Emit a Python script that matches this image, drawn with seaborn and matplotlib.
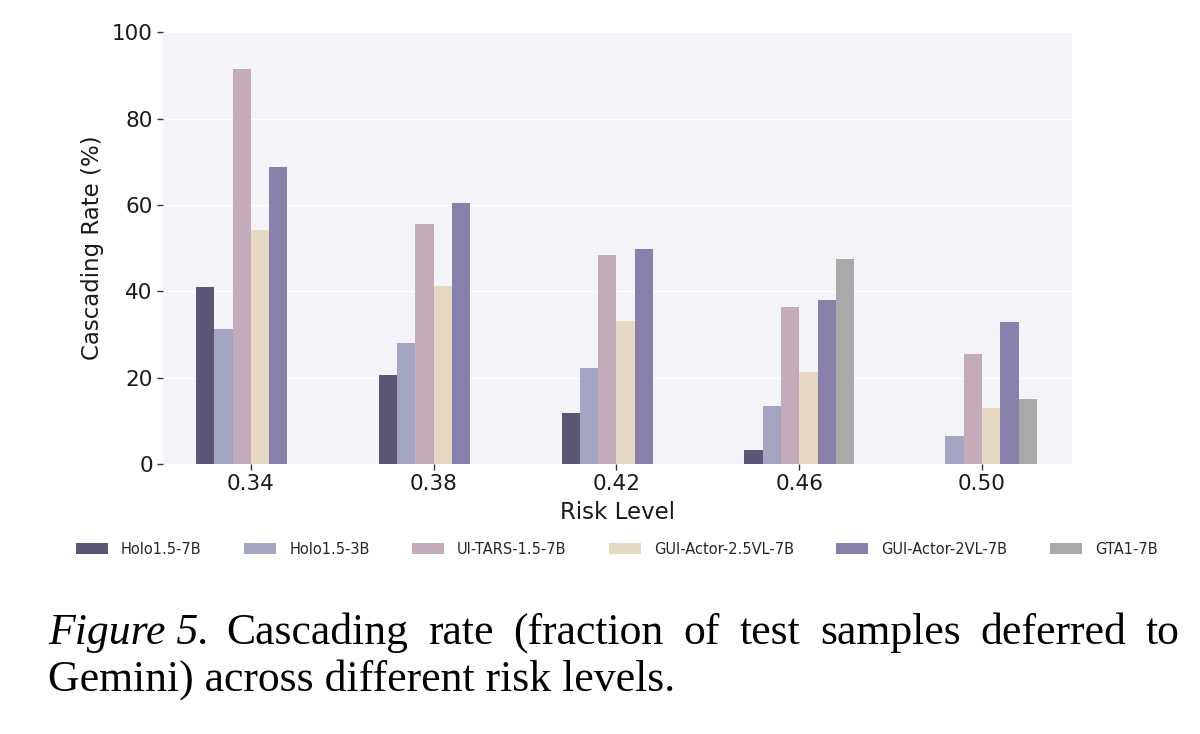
import numpy as np
import pandas as pd
import seaborn as sns
import matplotlib.pyplot as plt

# ─── Data ────────────────────────────────────────────────────────────
risk_levels = ["0.34", "0.38", "0.42", "0.46", "0.50"]
models = ["Holo1.5-7B", "Holo1.5-3B", "UI-TARS-1.5-7B",
          "GUI-Actor-2.5VL-7B", "GUI-Actor-2VL-7B", "GTA1-7B"]

holo_7b      = [41.0, 20.7, 11.9, 3.2, 0.0]
holo_3b      = [31.2, 27.9, 22.3, 13.4, 6.5]
ui_tars      = [91.4, 55.6, 48.3, 36.4, 25.4]
gui_actor_25 = [54.3, 41.3, 33.1, 21.4, 13.0]
gui_actor_2  = [68.8, 60.4, 49.8, 38.0, 32.9]
gta1_7b      = [0.0, 0.0, 0.0, 47.5, 15.0]

colors = ["#5b5676", "#a3a5c2", "#c4abba", "#e6d9c3", "#8880ab", "#a9a9a9"]

caption_tag = "Figure 5."
caption_line1 = "Cascading rate (fraction of test samples deferred to"
caption_line2 = "Gemini) across different risk levels."

series = [holo_7b, holo_3b, ui_tars, gui_actor_25, gui_actor_2, gta1_7b]
rows = []
for name, vals in zip(models, series):
    for lvl, v in zip(risk_levels, vals):
        rows.append({"Risk Level": lvl, "Model": name, "Rate": v})
df = pd.DataFrame(rows)

# ─── Style ───────────────────────────────────────────────────────────
sns.set_style("darkgrid", {
    "axes.facecolor": "#f3f3f8",
    "grid.color": "white",
    "xtick.bottom": True,
    "ytick.left": True,
})
plt.rcParams["font.family"] = ["DejaVu Sans"]

fig = plt.figure(figsize=(12, 7.34), dpi=100)
ax = fig.add_axes([0.136, 0.368, 0.757, 0.588])

sns.barplot(data=df, x="Risk Level", y="Rate", hue="Model",
            hue_order=models, order=risk_levels, palette=colors,
            width=0.6, saturation=1, linewidth=0, ax=ax)

ax.set_ylim(0, 100)
ax.set_xlim(-0.48, 4.49)
ax.set_yticks([0, 20, 40, 60, 80, 100])
ax.grid(axis="x", visible=False)
ax.grid(axis="y", color="white", linewidth=1.0)
ax.set_axisbelow(True)
for s in ax.spines.values():
    s.set_visible(False)
ax.tick_params(axis="both", labelsize=15.5, length=4, width=1, color="#333333",
               labelcolor="#1a1a1a")
ax.set_xlabel("Risk Level", fontsize=16.5, color="#1a1a1a", labelpad=5)
ax.set_ylabel("Cascading Rate (%)", fontsize=16.5, color="#1a1a1a", labelpad=6)

handles, labels = ax.get_legend_handles_labels()
ax.legend_.remove()
fig.legend(handles, labels, loc="center", bbox_to_anchor=(0.514, 0.252),
           ncol=6, frameon=False, fontsize=10.5, handlelength=2.2,
           handleheight=0.7, columnspacing=2.9, handletextpad=0.9)

# ─── Caption (first line justified like the paper's text block) ──────
serif = ["Liberation Serif", "DejaVu Serif"]
cap_size = 31.5
y1 = 1 - 644 / 734
y2 = 1 - 691 / 734
fig.text(0.040, y1, caption_tag, fontsize=cap_size, style="italic",
         family=serif, color="black")

renderer = fig.canvas.get_renderer()
words = caption_line1.split()
x_start, x_end = 226 / 1200, 1180 / 1200
word_texts = [fig.text(0, y1, w, fontsize=cap_size, family=serif,
                       color="black") for w in words]
widths = [t.get_window_extent(renderer).width / 1200 for t in word_texts]
gap = (x_end - x_start - sum(widths)) / (len(words) - 1)
x = x_start
for t, w in zip(word_texts, widths):
    t.set_x(x)
    x += w + gap

fig.text(0.040, y2, caption_line2, fontsize=cap_size, family=serif,
         color="black")

fig.savefig("out.png", dpi=100)
